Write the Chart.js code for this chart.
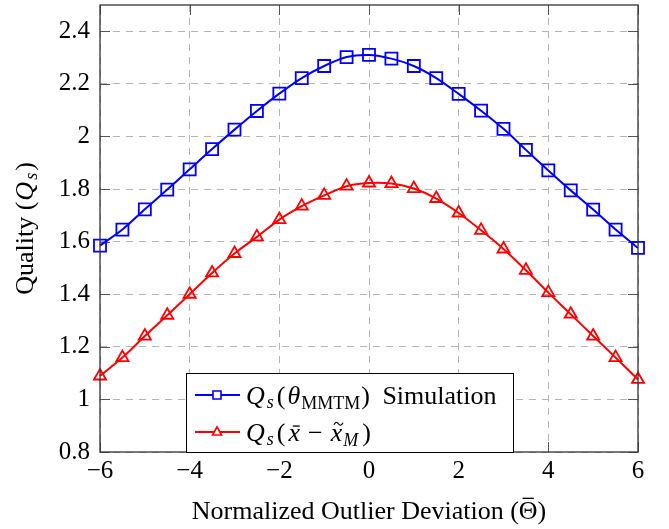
<!DOCTYPE html>
<html>
<head>
<meta charset="utf-8">
<script src="https://cdn.jsdelivr.net/npm/chart.js@4"></script>
<style>
  body { margin: 0; background: #fff; }
  canvas { display: block; }
</style>
</head>
<body>
<canvas id="quality" width="669" height="529"></canvas>
<script>
// data
const xValues = [-6, -5.5, -5, -4.5, -4, -3.5, -3, -2.5, -2, -1.5, -1, -0.5, 0,
  0.5, 1, 1.5, 2, 2.5, 3, 3.5, 4, 4.5, 5, 5.5, 6];
const mmtmSim = [1.585, 1.646, 1.723, 1.798, 1.875, 1.952, 2.026, 2.097, 2.163,
  2.222, 2.268, 2.302, 2.310, 2.296, 2.268, 2.222, 2.162, 2.098, 2.029, 1.949,
  1.871, 1.795, 1.722, 1.646, 1.576];
const meanMedian = [1.089, 1.159, 1.241, 1.320, 1.400, 1.481, 1.555, 1.618, 1.684,
  1.735, 1.776, 1.811, 1.823, 1.821, 1.802, 1.764, 1.709, 1.643, 1.572, 1.491,
  1.406, 1.324, 1.241, 1.159, 1.076];
const xTicks = [-6, -4, -2, 0, 2, 4, 6];
const xTickLabels = ["\u22126", "\u22124", "\u22122", "0", "2", "4", "6"];
const yTicks = [0.8, 1, 1.2, 1.4, 1.6, 1.8, 2, 2.2, 2.4];
const yTickLabels = ["0.8", "1", "1.2", "1.4", "1.6", "1.8", "2", "2.2", "2.4"];

const SERIF = "'Liberation Serif', 'DejaVu Serif', serif";

function toPoints(ys) {
  return xValues.map((x, i) => ({ x: x, y: ys[i] }));
}

// draw a run of text pieces (italic, subscripts, accents) from x on baseline y
function drawRich(ctx, segs, x, y, align) {
  let total = 0;
  segs.forEach((s) => {
    ctx.font = (s.it ? "italic " : "") + s.size + "px " + SERIF;
    s.w = ctx.measureText(s.t).width + (s.gap || 0);
    total += s.w;
  });
  let cx = align === "center" ? x - total / 2 : x;
  ctx.textAlign = "left";
  ctx.textBaseline = "alphabetic";
  segs.forEach((s) => {
    ctx.font = (s.it ? "italic " : "") + s.size + "px " + SERIF;
    const by = y + (s.dy || 0);
    ctx.fillText(s.t, cx, by);
    const tw = s.w - (s.gap || 0);
    const shift = s.it ? s.size * 0.08 : 0;
    if (s.acc === "bar") {
      ctx.fillRect(cx + tw * 0.2 + shift, by - s.size * (s.accH || 0.62), tw * 0.6, 1.3);
    } else if (s.acc === "tilde") {
      const mx = cx + tw / 2 + shift, my = by - s.size * 0.66;
      ctx.save();
      ctx.lineWidth = 1.2;
      ctx.strokeStyle = ctx.fillStyle;
      ctx.beginPath();
      ctx.moveTo(mx - 4.5, my + 1);
      ctx.bezierCurveTo(mx - 2.5, my - 3, mx - 1, my - 1, mx, my);
      ctx.bezierCurveTo(mx + 1, my + 1, mx + 2.5, my + 3, mx + 4.5, my - 1);
      ctx.stroke();
      ctx.restore();
    }
    cx += s.w;
  });
}

const framePlugin = {
  id: "frame",
  beforeDatasetsDraw(chart) {
    // inward tick marks on all four sides
    const { ctx, chartArea: a, scales } = chart;
    ctx.save();
    ctx.strokeStyle = "#555";
    ctx.lineWidth = 1;
    ctx.beginPath();
    xTicks.forEach((v) => {
      const px = Math.round(scales.x.getPixelForValue(v)) + 0.5;
      ctx.moveTo(px, a.top); ctx.lineTo(px, a.top + 10);
      ctx.moveTo(px, a.bottom); ctx.lineTo(px, a.bottom - 10);
    });
    yTicks.forEach((v) => {
      const py = Math.round(scales.y.getPixelForValue(v)) + 0.5;
      ctx.moveTo(a.left, py); ctx.lineTo(a.left + 10, py);
      ctx.moveTo(a.right, py); ctx.lineTo(a.right - 10, py);
    });
    ctx.stroke();
    ctx.restore();
  },
  afterDraw(chart) {
    const { ctx, chartArea: a } = chart;
    ctx.save();
    // frame
    ctx.strokeStyle = "#333";
    ctx.lineWidth = 1.3;
    ctx.strokeRect(a.left, a.top, a.right - a.left, a.bottom - a.top);

    // legend box, lower middle
    const lx = 186, ly = 373, lw = 327, lh = a.bottom - 373;
    ctx.fillStyle = "#fff";
    ctx.fillRect(lx, ly, lw, lh);
    ctx.strokeStyle = "#000";
    ctx.lineWidth = 1;
    ctx.strokeRect(lx + 0.5, ly + 0.5, lw, lh);

    const rows = [
      { color: "#0000ff", style: "rect", y: 395, segs: [
        { t: "Q", it: true, size: 26, gap: 2 }, { t: "s", it: true, size: 18, dy: 4, gap: 3 },
        { t: "(", size: 26, gap: 2 }, { t: "\u03b8", it: true, size: 26, gap: 1 },
        { t: "MMTM", size: 18, dy: 5, gap: 1 }, { t: ")", size: 26, gap: 6 },
        { t: " Simulation", size: 26 }] },
      { color: "#ff0000", style: "triangle", y: 432, segs: [
        { t: "Q", it: true, size: 26, gap: 2 }, { t: "s", it: true, size: 18, dy: 4, gap: 3 },
        { t: "(", size: 26, gap: 3 }, { t: "x", it: true, size: 26, acc: "bar", accH: 0.6, gap: 8 },
        { t: "\u2212", size: 26, gap: 8 }, { t: "x", it: true, size: 26, acc: "tilde", gap: 1 },
        { t: "M", it: true, size: 18, dy: 5, gap: 4 }, { t: ")", size: 26 }] }
    ];
    rows.forEach((r) => {
      ctx.strokeStyle = r.color;
      ctx.lineWidth = 2;
      ctx.beginPath();
      ctx.moveTo(195, r.y); ctx.lineTo(240, r.y);
      ctx.stroke();
      ctx.lineWidth = 1.6;
      ctx.fillStyle = "#fff";
      ctx.beginPath();
      if (r.style === "rect") {
        ctx.rect(213, r.y - 4, 8, 8);
      } else {
        ctx.moveTo(217, r.y - 5); ctx.lineTo(221.5, r.y + 3); ctx.lineTo(212.5, r.y + 3);
        ctx.closePath();
      }
      ctx.fill();
      ctx.stroke();
      ctx.fillStyle = "#000";
      drawRich(ctx, r.segs, 246, r.y + 9, "left");
    });

    // axis titles
    ctx.fillStyle = "#000";
    drawRich(ctx, [{ t: "Normalized Outlier Deviation (", size: 26 },
      { t: "\u0398", size: 26, acc: "bar", accH: 0.82 }, { t: ")", size: 26 }],
      (a.left + a.right) / 2, 519, "center");
    ctx.translate(33, (a.top + a.bottom) / 2);
    ctx.rotate(-Math.PI / 2);
    drawRich(ctx, [{ t: "Quality (", size: 26, gap: 1 }, { t: "Q", it: true, size: 26, gap: 2 },
      { t: "s", it: true, size: 18, dy: 4, gap: 2 }, { t: ")", size: 26 }], 0, 0, "center");
    ctx.restore();
  }
};

const ctx = document.getElementById("quality").getContext("2d");
new Chart(ctx, {
  type: "line",
  data: {
    datasets: [
      {
        label: "Qs(θMMTM) Simulation",
        data: toPoints(mmtmSim),
        borderColor: "#0000ff",
        backgroundColor: "rgba(255,255,255,0)",
        borderWidth: 2,
        pointStyle: "rect",
        pointRadius: 8.5,
        pointBorderWidth: 1.8,
        pointBorderColor: "#0000ff",
        pointBackgroundColor: "rgba(255,255,255,0)",
        tension: 0.3,
        fill: false,
        clip: false,
      },
      {
        label: "Qs(x̄ − x̃M)",
        data: toPoints(meanMedian),
        borderColor: "#ff0000",
        backgroundColor: "rgba(255,255,255,0)",
        borderWidth: 2,
        pointStyle: "triangle",
        pointRadius: 7,
        pointBorderWidth: 1.8,
        pointBorderColor: "#ff0000",
        pointBackgroundColor: "rgba(255,255,255,0)",
        tension: 0.3,
        fill: false,
        clip: false,
      },
    ],
  },
  options: {
    responsive: false,
    animation: false,
    layout: { autoPadding: false, padding: { left: 0, right: 31, top: 5, bottom: 0 } },
    plugins: {
      legend: { display: false },
      tooltip: { enabled: false },
    },
    scales: {
      x: {
        type: "linear",
        min: -6,
        max: 6,
        afterBuildTicks: (s) => { s.ticks = xTicks.map((v) => ({ value: v })); },
        afterFit: (s) => { s.height = 77; s.paddingLeft = 0; s.paddingRight = 0; },
        ticks: {
          padding: 4,
          color: "#000",
          maxRotation: 0,
          font: { family: SERIF, size: 25 },
          callback: (v) => xTickLabels[xTicks.indexOf(v)],
        },
        grid: { color: "#b4b4b4", lineWidth: 1, drawTicks: false },
        border: { display: false, dash: [7, 6] },
      },
      y: {
        min: 0.8,
        max: 2.5,
        afterBuildTicks: (s) => { s.ticks = yTicks.map((v) => ({ value: v })); },
        afterFit: (s) => { s.width = 100; s.paddingTop = 0; s.paddingBottom = 0; },
        ticks: {
          padding: 10,
          color: "#000",
          font: { family: SERIF, size: 25 },
          callback: (v) => yTickLabels[yTicks.indexOf(v)],
        },
        grid: { color: "#b4b4b4", lineWidth: 1, drawTicks: false },
        border: { display: false, dash: [7, 6] },
      },
    },
  },
  plugins: [framePlugin],
});
</script>
</body>
</html>
